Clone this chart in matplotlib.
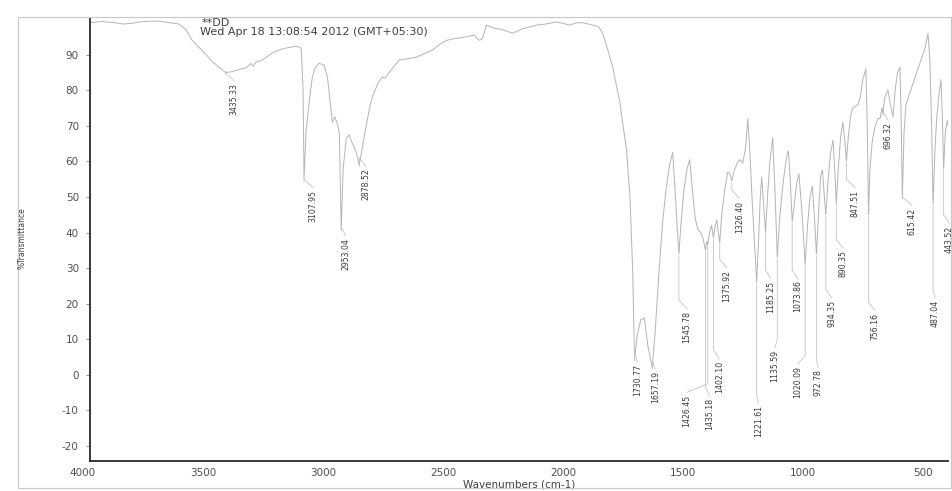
import matplotlib
matplotlib.use("Agg")
import matplotlib.pyplot as plt
from matplotlib.patches import Rectangle
from matplotlib.transforms import ScaledTranslation

# IR spectrum (wavenumber in cm-1, %T)
wavenumber = [
    4000, 3950, 3900, 3860, 3825, 3790, 3750, 3712, 3670, 3629, 3600, 3574, 3545, 3516,
    3490, 3462, 3435, 3408, 3380, 3349, 3330, 3320, 3307, 3290, 3266, 3240, 3212, 3185,
    3157, 3135, 3120, 3112, 3108, 3100, 3086, 3075, 3065, 3045, 3024, 3010, 3003, 2990,
    2980, 2969, 2961, 2953, 2945, 2932, 2919, 2910, 2899, 2888, 2878, 2865, 2849, 2835,
    2824, 2800, 2782, 2770, 2753, 2730, 2711, 2680, 2640, 2600, 2573, 2540, 2515, 2480,
    2431, 2400, 2377, 2365, 2348, 2320, 2281, 2239, 2200, 2139, 2100, 2056, 2030, 2002,
    1975, 1947, 1906, 1880, 1864, 1845, 1822, 1793, 1764, 1750, 1739, 1731, 1720, 1705,
    1690, 1675, 1657, 1645, 1630, 1615, 1600, 1585, 1572, 1562, 1552, 1546, 1538, 1525,
    1512, 1501, 1490, 1478, 1468, 1455, 1446, 1438, 1435, 1430, 1426, 1418, 1410, 1402,
    1395, 1388, 1382, 1376, 1368, 1355, 1343, 1333, 1326, 1315, 1300, 1292, 1280, 1268,
    1259, 1250, 1240, 1230, 1222, 1214, 1207, 1201, 1193, 1185, 1177, 1167, 1155, 1146,
    1136, 1125, 1110, 1098, 1090, 1082, 1074, 1065, 1055, 1046, 1036, 1028, 1020, 1010,
    1000, 990, 982, 973, 963, 955, 948, 940, 934, 925, 915, 904, 897, 890, 882, 872,
    863, 855, 848, 840, 830, 821, 810, 800, 790, 780, 767, 761, 756, 750, 740, 728,
    717, 708, 700, 696, 688, 675, 665, 654, 645, 635, 625, 620, 615, 608, 600, 590,
    580, 565, 550, 535, 520, 508, 500, 493, 487, 480, 472, 462, 454, 448, 443, 436,
    428, 425,
]
transmittance = [
    99.0, 99.3, 99.0, 98.6, 98.8, 99.2, 99.4, 99.4, 99.0, 98.6, 97.0, 94.0, 92.0, 90.0,
    88.0, 86.5, 85.0, 85.2, 85.8, 86.3, 87.5, 86.8, 88.0, 88.2, 89.2, 90.5, 91.3, 91.8,
    92.2, 92.3, 91.8, 80.0, 55.0, 68.0, 77.0, 83.0, 86.0, 87.6, 87.0, 83.5, 79.0, 71.0,
    72.5, 70.5, 68.0, 41.0, 58.0, 66.5, 67.4, 65.5, 64.0, 62.0, 59.0, 64.0, 70.0, 75.0,
    78.0, 82.0, 83.7, 83.4, 85.0, 87.0, 88.5, 88.8, 89.3, 90.5, 91.3, 93.0, 94.0, 94.5,
    95.0, 95.5, 94.0, 94.5, 98.3, 97.5, 97.0, 96.0, 97.2, 98.3, 98.6, 99.2, 98.8, 98.3,
    98.9, 99.0, 98.3, 97.8, 96.0, 92.0, 86.5, 77.0, 63.0, 50.0, 30.0, 4.5, 11.0, 15.5,
    16.0, 8.0, 2.0, 12.0, 28.0, 42.0, 52.0, 59.0, 62.5, 52.0, 40.0, 34.0, 42.0, 52.0,
    58.0, 60.5, 52.0, 44.0, 41.0, 40.0, 38.5, 36.0, 35.0, 37.5, 36.5, 40.0, 42.0, 38.5,
    42.0, 43.5, 40.0, 37.0, 45.0, 52.0, 57.0, 56.5, 54.5, 57.5, 60.0, 60.5, 59.5, 64.0,
    72.0, 62.0, 48.0, 36.0, 26.0, 38.0, 50.0, 55.6, 48.0, 40.0, 50.0, 60.0, 66.6, 52.0,
    33.0, 45.0, 55.0, 61.0, 63.0, 55.0, 43.0, 48.0, 54.0, 56.5, 48.0, 40.0, 31.0, 42.0,
    50.0, 53.0, 45.0, 34.0, 47.0, 56.0, 57.6, 50.0, 45.0, 54.0, 62.0, 66.0, 58.0, 48.0,
    58.0, 67.0, 71.0, 66.0, 60.0, 67.0, 73.0, 75.0, 75.5, 76.0, 78.0, 83.0, 86.0, 70.0,
    45.0, 58.0, 66.0, 70.0, 72.0, 72.0, 75.0, 73.5, 78.0, 80.0, 76.0, 72.5, 80.0, 85.0,
    86.5, 72.0, 50.0, 68.0, 76.0, 78.0, 80.0, 83.0, 86.0, 89.0, 92.0, 96.0, 88.0, 70.0,
    48.0, 62.0, 72.0, 79.0, 83.0, 72.0, 58.0, 68.0, 71.6, 70.0,
]

# peak picks: label, band position, dip value, where the label sits
peak_labels = [
    "3435.33", "3107.95", "2953.04", "2878.52", "1730.77", "1657.19", "1545.78",
    "1435.18", "1426.45", "1402.10", "1375.92", "1326.40", "1221.61", "1185.25",
    "1135.59", "1073.86", "1020.09", "972.78", "934.35", "890.35", "847.51",
    "756.16", "696.32", "615.42", "487.04", "443.52",
]
peak_wn = [
    3435, 3108, 2953, 2878, 1731, 1657, 1546, 1435, 1426, 1402, 1376, 1326, 1222,
    1185, 1136, 1074, 1020, 973, 934, 890, 848, 756, 696, 615, 487, 443,
]
peak_t = [
    85.0, 55.0, 41.0, 59.0, 4.5, 2.0, 34.0, 35.0, 36.5, 38.5, 37.0, 54.5, 26.0,
    40.0, 33.0, 43.0, 31.0, 34.0, 45.0, 48.0, 60.0, 45.0, 73.5, 50.0, 48.0, 58.0,
]
label_wn = [
    3400, 3070, 2935, 2850, 1718, 1645, 1512, 1418, 1512, 1378, 1347, 1295, 1215,
    1165, 1146, 1052, 1050, 966, 909, 862, 812, 730, 675, 575, 479, 420,
]
label_top = [
    82, 52, 38.5, 58, 3, 1, 18, -6.5, -5.5, 4, 29.5, 49, -8.5,
    26.5, 7, 26.5, 2.5, 1.5, 21, 35, 52, 17.5, 71, 47, 21, 42,
]

x_ticks = [4000, 3500, 3000, 2500, 2000, 1500, 1000, 500]
y_ticks = [-20, -10, 0, 10, 20, 30, 40, 50, 60, 70, 80, 90]

plt.rcParams["font.family"] = "DejaVu Sans"
plt.rcParams["axes.unicode_minus"] = False

fig = plt.figure(figsize=(9.53, 4.91), dpi=100)
ax = fig.add_axes([0.0944, 0.0611, 0.9003, 0.9023])

ax.plot(wavenumber, transmittance, color="#b4b4b4", linewidth=0.7)

for lab, wn, t, lx, ly in zip(peak_labels, peak_wn, peak_t, label_wn, label_top):
    ax.plot([wn, wn, lx], [t - 0.5, ly + 3, ly + 0.6], color="#c4c4c4",
            linewidth=0.6, clip_on=False)
    ax.text(lx, ly, lab, rotation=90, ha="center", va="top", fontsize=5.6,
            color="#3a3a3a", clip_on=False)

ax.set_xlim(4000, 425)
ax.set_ylim(-24.2, 100.3)
ax.set_xticks(x_ticks)
ax.set_yticks(y_ticks)

for side in ["top", "right"]:
    ax.spines[side].set_visible(False)
for side in ["left", "bottom"]:
    ax.spines[side].set_linewidth(1.3)
    ax.spines[side].set_color("#2a2a2a")

ax.tick_params(axis="y", length=3, width=0.6, pad=5, labelsize=7.5,
               labelcolor="#505050", color="#808080")
ax.tick_params(axis="x", length=0, pad=5, labelsize=7.5, labelcolor="#505050")

# the printout has its wavenumber labels sitting a little left of the ticks
shift = ScaledTranslation(-7 / 100, 0, fig.dpi_scale_trans)
for tick_label in ax.get_xticklabels():
    tick_label.set_transform(tick_label.get_transform() + shift)

ax.set_xlabel("Wavenumbers (cm-1)", fontsize=7.5, color="#404040")
ax.xaxis.set_label_coords(0.5, -0.042)
fig.text(22 / 953, 1 - 238 / 491, "%Transmittance", rotation=90, ha="center",
         va="center", fontsize=5.5, color="#404040")

fig.text(202 / 953, 1 - 23 / 491, "**DD", ha="left", va="center", fontsize=8,
         color="#404040")
fig.text(200 / 953, 1 - 32 / 491, "Wed Apr 18 13:08:54 2012 (GMT+05:30)",
         ha="left", va="center", fontsize=8, color="#404040")

# faint outer frame of the scanned printout
fig.patches.append(Rectangle((0.019, 0.006), 0.979, 0.959, transform=fig.transFigure,
                             fill=False, edgecolor="#c8c8c8", linewidth=0.8))

fig.savefig("out.png", dpi=100, facecolor="white")
